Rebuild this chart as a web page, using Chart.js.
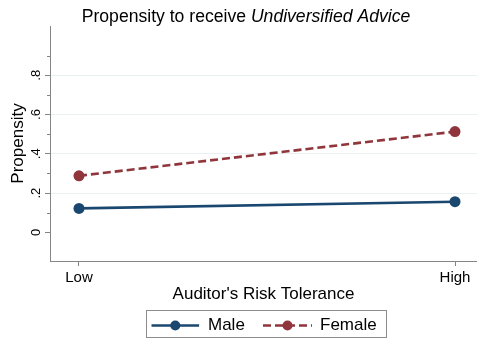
<!DOCTYPE html>
<html>
<head>
<meta charset="utf-8">
<script src="https://cdn.jsdelivr.net/npm/chart.js@4/dist/chart.umd.min.js"></script>
<style>
  html, body { margin: 0; padding: 0; background: #ffffff; }
  canvas { display: block; }
</style>
</head>
<body>
<canvas id="chart" width="477" height="339"></canvas>
<script>
// Category labels on the x axis and the predicted propensities per group
const categories = ['Low', 'High'];
const seriesNames = ['Male', 'Female'];
const maleValues = [0.122, 0.156];
const femaleValues = [0.288, 0.513];

// Y axis ticks: labelled majors and unlabelled minors
const yMajorTicks = [0, 0.2, 0.4, 0.6, 0.8];
const yTickLabels = ['0', '.2', '.4', '.6', '.8'];
const yMinorTicks = [0.1, 0.3, 0.5, 0.7, 0.9];

const FONT = "'Liberation Sans', Arial, Helvetica, sans-serif";
const NAVY = '#1a476f';
const MAROON = '#90353b';
const AXIS = '#858585';
const GRID = '#e8f0f2';

const toPoints = vals => vals.map((v, i) => ({ x: i, y: v }));

// Title with an italic tail
const titlePlugin = {
  id: 'mixedTitle',
  afterDraw(chart) {
    const ctx = chart.ctx;
    const parts = [
      { text: 'Propensity to receive ', font: `17.6px ${FONT}` },
      { text: 'Undiversified Advice', font: `italic 17.6px ${FONT}` }
    ];
    ctx.save();
    let total = 0;
    parts.forEach(p => { ctx.font = p.font; p.w = ctx.measureText(p.text).width; total += p.w; });
    let x = 246 - total / 2;
    ctx.fillStyle = '#000';
    ctx.textBaseline = 'alphabetic';
    ctx.textAlign = 'left';
    parts.forEach(p => { ctx.font = p.font; ctx.fillText(p.text, x, 21.5); x += p.w; });
    ctx.restore();
  }
};

// Short minor tick marks on the y axis
const minorTickPlugin = {
  id: 'minorTicks',
  afterDraw(chart) {
    const y = chart.scales.y;
    const ctx = chart.ctx;
    ctx.save();
    ctx.strokeStyle = AXIS;
    ctx.lineWidth = 1;
    yMinorTicks.forEach(v => {
      const py = Math.round(y.getPixelForValue(v)) + 0.5;
      ctx.beginPath();
      ctx.moveTo(y.right - 3, py);
      ctx.lineTo(y.right, py);
      ctx.stroke();
    });
    ctx.restore();
  }
};

// Boxed legend with line-and-marker samples
const legendPlugin = {
  id: 'boxedLegend',
  afterDraw(chart) {
    const ctx = chart.ctx;
    const boxW = 240, boxH = 27;
    const left = 146.5;
    const top = 310.5;
    const cy = top + 15;
    ctx.save();
    ctx.strokeStyle = '#8c8c8c';
    ctx.lineWidth = 1;
    ctx.strokeRect(left, top, boxW, boxH);
    const layout = [
      { start: 5, len: 47.6, textX: 61.5 },
      { start: 116.5, len: 49, textX: 173.5 }
    ];
    chart.data.datasets.forEach((ds, i) => {
      const L = layout[i];
      const x0 = left + L.start;
      ctx.strokeStyle = ds.borderColor;
      ctx.lineWidth = ds.borderWidth;
      ctx.setLineDash(ds.borderDash || []);
      ctx.beginPath();
      ctx.moveTo(x0, cy);
      ctx.lineTo(x0 + L.len, cy);
      ctx.stroke();
      ctx.setLineDash([]);
      ctx.fillStyle = ds.pointBackgroundColor;
      ctx.beginPath();
      ctx.arc(x0 + L.len / 2, cy, 5, 0, Math.PI * 2);
      ctx.fill();
      ctx.fillStyle = '#000';
      ctx.font = `17px ${FONT}`;
      ctx.textAlign = 'left';
      ctx.textBaseline = 'middle';
      ctx.fillText(ds.label, left + L.textX, cy);
    });
    ctx.restore();
  }
};

new Chart(document.getElementById('chart'), {
  type: 'line',
  data: {
    datasets: [
      {
        label: seriesNames[0],
        data: toPoints(maleValues),
        borderColor: NAVY,
        backgroundColor: NAVY,
        pointBackgroundColor: NAVY,
        pointBorderWidth: 0,
        pointRadius: 5.5,
        borderWidth: 2.6,
        tension: 0,
        fill: false
      },
      {
        label: seriesNames[1],
        data: toPoints(femaleValues),
        borderColor: MAROON,
        backgroundColor: MAROON,
        pointBackgroundColor: MAROON,
        pointBorderWidth: 0,
        pointRadius: 5.5,
        borderWidth: 2.6,
        borderDash: [8, 4],
        tension: 0,
        fill: false
      }
    ]
  },
  options: {
    responsive: false,
    animation: false,
    devicePixelRatio: 1,
    layout: { autoPadding: false, padding: { left: 0, right: 0, top: 26, bottom: 34 } },
    plugins: {
      legend: { display: false },
      tooltip: { enabled: false },
      title: { display: false }
    },
    scales: {
      x: {
        type: 'linear',
        min: -0.0771,
        max: 1.0585,
        afterBuildTicks: s => { s.ticks = categories.map((_, i) => ({ value: i })); },
        afterFit: s => { s.height = 44; },
        grid: { drawOnChartArea: false, drawTicks: true, tickLength: 5, tickColor: AXIS, tickWidth: 1 },
        border: { color: AXIS, width: 1 },
        ticks: {
          callback: v => categories[v],
          font: { family: FONT, size: 15 },
          color: '#000',
          padding: 3,
          maxRotation: 0,
          autoSkip: false
        },
        title: {
          display: true,
          text: "Auditor's Risk Tolerance",
          font: { family: FONT, size: 17 },
          color: '#000',
          padding: { top: 0, bottom: 0 }
        }
      },
      y: {
        type: 'linear',
        min: -0.146,
        max: 1.051,
        afterBuildTicks: s => { s.ticks = yMajorTicks.map(v => ({ value: v })); },
        afterFit: s => { s.width = 50; },
        grid: {
          color: c => (c.tick && c.tick.value === 0) ? 'rgba(0,0,0,0)' : GRID,
          lineWidth: 1,
          drawTicks: true,
          tickLength: 5,
          tickColor: AXIS
        },
        border: { color: AXIS, width: 1 },
        ticks: {
          callback: v => yTickLabels[yMajorTicks.indexOf(v)],
          minRotation: 90,
          maxRotation: 90,
          crossAlign: 'center',
          padding: 3,
          font: { family: FONT, size: 13 },
          color: '#000'
        },
        title: {
          display: true,
          text: 'Propensity',
          font: { family: FONT, size: 17 },
          color: '#000',
          padding: { top: 8.5, bottom: 0 }
        }
      }
    }
  },
  plugins: [titlePlugin, minorTickPlugin, legendPlugin]
});
</script>
</body>
</html>
